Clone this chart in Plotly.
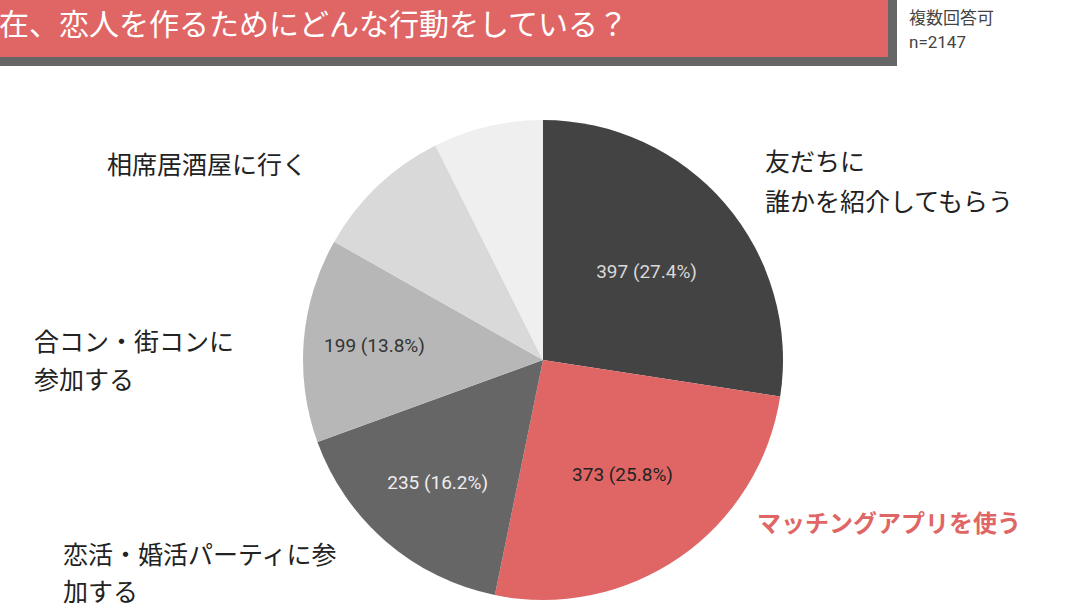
import plotly.graph_objects as go

W, H = 1080, 607

# Data
categories = ['友だちに誰かを紹介してもらう', 'マッチングアプリを使う', '恋活・婚活パーティに参加する',
              '合コン・街コンに参加する', '相席居酒屋に行く', 'その他']
counts = [397, 373, 235, 199, 136, 107]
colors = ['#434343', '#e06666', '#666666', '#b7b7b7', '#d9d9d9', '#efefef']
text_colors = ['#d9d9d9', '#222222', '#eeeeee', '#333333', '#333333', '#333333']
show_text = [True, True, True, True, False, False]

title_text = '在、恋人を作るためにどんな行動をしている？'
note_lines = ['複数回答可', 'n=2147']


def px_x(x):
    return x / W


def px_y(y):
    return 1 - y / H


# Pie: centre (543, 360), radius 240 px
cx, cy, r = 543, 360, 240

fig = go.Figure(go.Pie(
    labels=categories,
    values=counts,
    sort=False,
    direction='clockwise',
    rotation=0,
    marker=dict(colors=colors, line=dict(width=0)),
    texttemplate=['%{value} (%{percent:.1%})' if s else '' for s in show_text],
    textposition='inside',
    insidetextorientation='horizontal',
    insidetextfont=dict(color=text_colors, size=19, family='Roboto, Noto Sans CJK JP'),
    hoverinfo='label+value+percent',
    domain=dict(x=[px_x(cx - r), px_x(cx + r)], y=[px_y(cy + r), px_y(cy - r)]),
    showlegend=False,
))

jp = 'Noto Sans CJK JP'

# Header bar with a dark shadow
shapes = [
    dict(type='rect', xref='paper', yref='paper', x0=0, x1=px_x(897), y0=px_y(66), y1=1,
         fillcolor='#666666', line=dict(width=0), layer='above'),
    dict(type='rect', xref='paper', yref='paper', x0=0, x1=px_x(888), y0=px_y(57), y1=1,
         fillcolor='#e06666', line=dict(width=0), layer='above'),
]


def label(text, x, y, size=25, color='#222222', family=jp):
    return dict(text=text, x=px_x(x), y=px_y(y), xanchor='left', yanchor='middle',
                align='left', font=dict(size=size, color=color, family=family))


annotations = [
    label(title_text, -3, 22, size=30, color='white'),
    label(note_lines[0], 907, 17, size=17, color='#444444'),
    label(note_lines[1], 907, 42, size=17, color='#444444', family='Roboto'),
    # slice labels, one annotation per line
    label('友だちに', 763, 160),
    label('誰かを紹介してもらう', 763, 200),
    label('<b>マッチングアプリを使う</b>', 755, 521, size=24, color='#e06666'),
    label('恋活・婚活パーティに参', 61, 553),
    label('加する', 61, 590),
    label('合コン・街コンに', 32, 340),
    label('参加する', 32, 378),
    label('相席居酒屋に行く', 105, 163),
]
for a in annotations:
    a.update(xref='paper', yref='paper', showarrow=False)

fig.update_layout(
    width=W, height=H,
    margin=dict(l=0, r=0, t=0, b=0),
    paper_bgcolor='white',
    plot_bgcolor='white',
    shapes=shapes,
    annotations=annotations,
)

fig.write_html("out.html", config={'displayModeBar': False},
               post_script="document.body.style.margin = '0';")
